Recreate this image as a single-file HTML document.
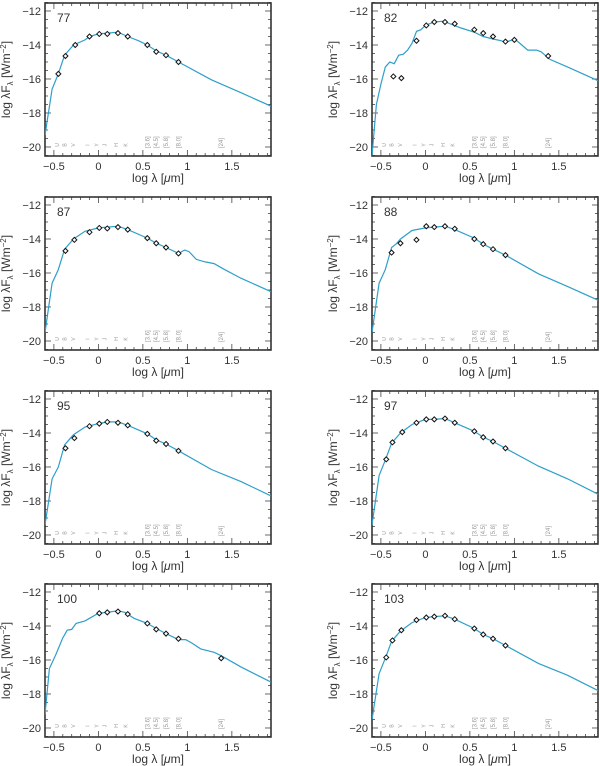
<!DOCTYPE html>
<html><head><meta charset="utf-8">
<style>
html,body{margin:0;padding:0;background:#fff;}
svg{display:block;font-family:"Liberation Sans",sans-serif;}
</style></head>
<body>
<svg id="fig" width="600" height="766" viewBox="0 0 600 766"></svg>
<script>
const panelIds = ["77","82","87","88","95","97","100","103"];
const mx77 = [-0.6,-0.52,-0.45,-0.38,-0.33,-0.28,-0.15,-0.1,0,0.1,0.22,0.33,0.45,0.55,0.65,0.76,0.9,1.27,1.6,1.94];
const my77 = [-19.3,-16.6,-15.7,-14.6,-14.3,-14.0,-13.7,-13.5,-13.35,-13.3,-13.25,-13.5,-13.75,-14.0,-14.35,-14.6,-15.0,-16.05,-16.8,-17.6];
const ox77 = [-0.45,-0.37,-0.26,-0.1,0.01,0.1,0.22,0.33,0.55,0.65,0.76,0.9];
const oy77 = [-15.7,-14.65,-14.0,-13.5,-13.35,-13.35,-13.3,-13.5,-14.0,-14.4,-14.6,-15.0];

const mx82 = [-0.6,-0.55,-0.5,-0.45,-0.4,-0.35,-0.3,-0.25,-0.2,-0.15,-0.1,-0.05,0,0.1,0.2,0.3,0.4,0.55,0.65,0.76,0.85,0.9,1.0,1.05,1.15,1.25,1.3,1.4,1.6,1.94];
const my82 = [-20.5,-17.5,-16.3,-15.3,-15.0,-15.1,-14.6,-14.55,-14.3,-13.9,-13.2,-13.1,-12.85,-12.65,-12.6,-12.8,-13.0,-13.25,-13.5,-13.65,-13.75,-13.85,-13.65,-13.85,-14.3,-14.3,-14.4,-14.85,-15.3,-16.1];
const ox82 = [-0.36,-0.27,-0.1,0.01,0.1,0.22,0.33,0.55,0.65,0.76,0.9,1.0,1.38];
const oy82 = [-15.85,-15.95,-13.75,-12.85,-12.65,-12.65,-12.75,-13.1,-13.3,-13.5,-13.8,-13.7,-14.65];

const mx87 = [-0.6,-0.52,-0.45,-0.38,-0.33,-0.28,-0.15,0,0.1,0.22,0.33,0.55,0.65,0.76,0.9,0.97,1.02,1.1,1.2,1.3,1.4,1.6,1.94];
const my87 = [-19.5,-16.6,-15.8,-14.6,-14.3,-14.0,-13.55,-13.35,-13.3,-13.25,-13.45,-13.95,-14.25,-14.5,-14.85,-14.65,-14.75,-15.2,-15.35,-15.45,-15.75,-16.3,-17.1];
const ox87 = [-0.37,-0.27,-0.1,0.01,0.1,0.22,0.33,0.55,0.65,0.76,0.9];
const oy87 = [-14.7,-14.05,-13.6,-13.35,-13.38,-13.3,-13.45,-13.95,-14.25,-14.5,-14.85];

const mx88 = [-0.6,-0.52,-0.45,-0.38,-0.33,-0.28,-0.15,0,0.1,0.22,0.33,0.55,0.65,0.76,0.9,1.27,1.6,1.94];
const my88 = [-19.5,-16.6,-15.8,-14.5,-14.3,-14.0,-13.5,-13.35,-13.3,-13.25,-13.45,-13.95,-14.3,-14.6,-14.95,-16.05,-16.8,-17.6];
const ox88 = [-0.38,-0.28,-0.1,0.01,0.1,0.22,0.33,0.55,0.65,0.76,0.9];
const oy88 = [-14.8,-14.25,-14.05,-13.25,-13.3,-13.25,-13.4,-14.0,-14.3,-14.6,-14.95];

const mx95 = [-0.6,-0.52,-0.45,-0.38,-0.33,-0.28,-0.15,0,0.1,0.22,0.33,0.55,0.65,0.76,0.9,1.27,1.6,1.94];
const my95 = [-19.4,-16.7,-16.0,-14.7,-14.4,-14.1,-13.65,-13.45,-13.35,-13.35,-13.55,-14.05,-14.4,-14.65,-15.05,-16.15,-16.85,-17.7];
const ox95 = [-0.37,-0.27,-0.1,0.01,0.1,0.22,0.33,0.55,0.65,0.76,0.9];
const oy95 = [-14.9,-14.3,-13.6,-13.45,-13.35,-13.4,-13.55,-14.05,-14.45,-14.65,-15.05];

const mx97 = [-0.6,-0.52,-0.45,-0.38,-0.33,-0.28,-0.15,0,0.1,0.22,0.33,0.55,0.65,0.76,0.9,1.27,1.6,1.94];
const my97 = [-19.4,-16.5,-15.6,-14.6,-14.3,-14.0,-13.5,-13.2,-13.2,-13.15,-13.4,-13.9,-14.25,-14.5,-14.9,-15.95,-16.7,-17.6];
const ox97 = [-0.44,-0.37,-0.26,-0.1,0.01,0.1,0.22,0.33,0.55,0.65,0.76,0.9];
const oy97 = [-15.55,-14.55,-13.95,-13.4,-13.2,-13.2,-13.15,-13.4,-13.9,-14.25,-14.5,-14.9];

const mx100 = [-0.6,-0.55,-0.48,-0.4,-0.35,-0.3,-0.25,-0.15,-0.1,0,0.1,0.22,0.3,0.4,0.55,0.65,0.76,0.9,0.98,1.05,1.15,1.3,1.38,1.6,1.94];
const my100 = [-19.2,-16.5,-15.7,-14.7,-14.25,-14.2,-13.85,-13.7,-13.55,-13.25,-13.2,-13.1,-13.2,-13.55,-13.85,-14.15,-14.45,-14.8,-14.8,-15.0,-15.35,-15.55,-15.75,-16.4,-17.3];
const ox100 = [0.01,0.1,0.22,0.33,0.55,0.65,0.76,0.9,1.38];
const oy100 = [-13.25,-13.2,-13.15,-13.3,-13.85,-14.2,-14.45,-14.75,-15.9];

const mx103 = [-0.6,-0.52,-0.45,-0.38,-0.33,-0.28,-0.15,0,0.1,0.22,0.33,0.55,0.65,0.76,0.9,1.27,1.6,1.94];
const my103 = [-19.5,-16.8,-15.9,-14.9,-14.6,-14.3,-13.8,-13.5,-13.45,-13.4,-13.6,-14.15,-14.5,-14.75,-15.15,-16.2,-16.9,-17.8];
const ox103 = [-0.44,-0.37,-0.27,-0.1,0.01,0.1,0.22,0.33,0.55,0.65,0.76,0.9];
const oy103 = [-15.85,-14.85,-14.25,-13.65,-13.5,-13.45,-13.4,-13.6,-14.15,-14.5,-14.75,-15.15];

const xTicks = [-0.5,0,0.5,1,1.5];
const xTickLabels = ["\u22120.5","0","0.5","1","1.5"];
const yTicks = [-12,-14,-16,-18,-20];
const yTickLabels = ["\u221212","\u221214","\u221216","\u221218","\u221220"];
const bandNames = ["U","B","V","I","Y","J","H","K"];
const bandX = [-0.44,-0.36,-0.26,-0.1,0.0,0.09,0.22,0.33];
const iracNames = ["[3.6]","[4.5]","[5.8]","[8.0]","[24]"];
const iracX = [0.55,0.65,0.76,0.9,1.38];

const models = [[mx77,my77],[mx82,my82],[mx87,my87],[mx88,my88],[mx95,my95],[mx97,my97],[mx100,my100],[mx103,my103]];
const obs = [[ox77,oy77],[ox82,oy82],[ox87,oy87],[ox88,oy88],[ox95,oy95],[ox97,oy97],[ox100,oy100],[ox103,oy103]];

const NS = "http://www.w3.org/2000/svg";
const svg = document.getElementById("fig");
function mk(tag, attrs, parent){
  const e = document.createElementNS(NS, tag);
  for (const k in attrs) e.setAttribute(k, attrs[k]);
  parent.appendChild(e);
  return e;
}
const XMIN=-0.6, XMAX=1.94, YTOP=-11.53, YBOT=-20.53;
const rowOff=[0,194,388,581];
const colOff=[0,327];

for (let p=0;p<8;p++){
  const col=p%2, row=Math.floor(p/2);
  const L=45+colOff[col], R=271+colOff[col], T=3+rowOff[row], B=156+rowOff[row];
  const sx = x => L + (x-XMIN)/(XMAX-XMIN)*(R-L);
  const sy = y => T + (YTOP-y)/(YTOP-YBOT)*(B-T);
  const g = mk("g",{},svg);
  
  

  const tk = mk("g",{stroke:"#444","stroke-width":"0.8"},g);
  
  
  for (let i=0;i<=25;i++){
    const v = -0.6+i*0.1; const X=sx(v);
    const major = Math.abs(v*2-Math.round(v*2))<1e-6;
    const len = major?6:3;
    mk("line",{x1:X,y1:B,x2:X,y2:B-len},tk);
    mk("line",{x1:X,y1:T,x2:X,y2:T+len},tk);
  }
  for (let i=0;i<=18;i++){
    const v=-20.5+i*0.5; const Y=sy(v);
    const major = Math.abs(v/2-Math.round(v/2))<1e-6;
    const len = major?6:3;
    mk("line",{x1:L,y1:Y,x2:L+len,y2:Y},tk);
    mk("line",{x1:R,y1:Y,x2:R-len,y2:Y},tk);
  }
  const fr = mk("rect",{x:L,y:T,width:R-L,height:B-T,fill:"none",stroke:"#333","stroke-width":"1.6"},g);
  
  

  for (let i=0;i<xTicks.length;i++){
    const t = mk("text",{x:sx(xTicks[i]),y:B+14,"font-size":"11","text-anchor":"middle",fill:"#333"},g);
    t.textContent = xTickLabels[i];
    
    
  }
  for (let i=0;i<yTicks.length;i++){
    const t = mk("text",{x:L-4,y:sy(yTicks[i])+4,"font-size":"11","text-anchor":"end",fill:"#333"},g);
    t.textContent = yTickLabels[i];
    
    
  }
  const xl = mk("text",{x:(L+R)/2,y:B+26,"font-size":"12","text-anchor":"middle",fill:"#333"},g);
  xl.innerHTML = 'log \u03bb [<tspan font-style="italic">\u03bc</tspan>m]';
  
  
  const cy=(T+B)/2, cx=L-35;
  const yl = mk("text",{x:cx,y:cy,"font-size":"12","text-anchor":"middle",fill:"#333",transform:`rotate(-90 ${cx} ${cy})`},g);
  yl.innerHTML = 'log \u03bbF<tspan font-size="8" dy="3">\u03bb</tspan><tspan dy="-3"> [Wm</tspan><tspan font-size="8" dy="-4">\u22122</tspan><tspan dy="4">]</tspan>';
  
  

  const pl = mk("text",{x:L+12,y:T+19,"font-size":"12",fill:"#333"},g);
  pl.textContent = panelIds[p];
  
  

  for (let i=0;i<bandNames.length;i++){
    const X=sx(bandX[i]), Y=sy(-20);
    const t = mk("text",{x:X+2,y:Y,"font-size":"5",fill:"#999","text-anchor":"middle",transform:`rotate(-90 ${X} ${Y})`},g);
    t.textContent = bandNames[i];
    
    
  }
  for (let i=0;i<iracNames.length;i++){
    const X=sx(iracX[i]), Y=sy(-20)+1;
    const t = mk("text",{x:X,y:Y+2,"font-size":"6",fill:"#999",transform:`rotate(-90 ${X} ${Y})`},g);
    t.textContent = iracNames[i];
    
    
  }

  const [mxs,mys] = models[p];
  let d="";
  for (let i=0;i<mxs.length;i++){
    const X=sx(mxs[i]), Y=Math.min(B,sy(mys[i]));
    d += (i?"L":"M")+X.toFixed(1)+","+Y.toFixed(1);
  }
  const cp = mk("clipPath",{id:"clip"+p},g);
  mk("rect",{x:L,y:T,width:R-L,height:B-T},cp);
  const path = mk("path",{d:d,fill:"none",stroke:"#2e9fc9","stroke-width":"1.2","clip-path":`url(#clip${p})`},g);
  
  

  const [oxs,oys] = obs[p];
  for (let i=0;i<oxs.length;i++){
    const X=sx(oxs[i]), Y=sy(oys[i]);
    const m = mk("path",{d:`M${X},${Y-2.5}L${X+2.5},${Y}L${X},${Y+2.5}L${X-2.5},${Y}Z`,fill:"#fff",stroke:"#111","stroke-width":"1"},g);
    
    
  }
}
</script>
</body></html>
